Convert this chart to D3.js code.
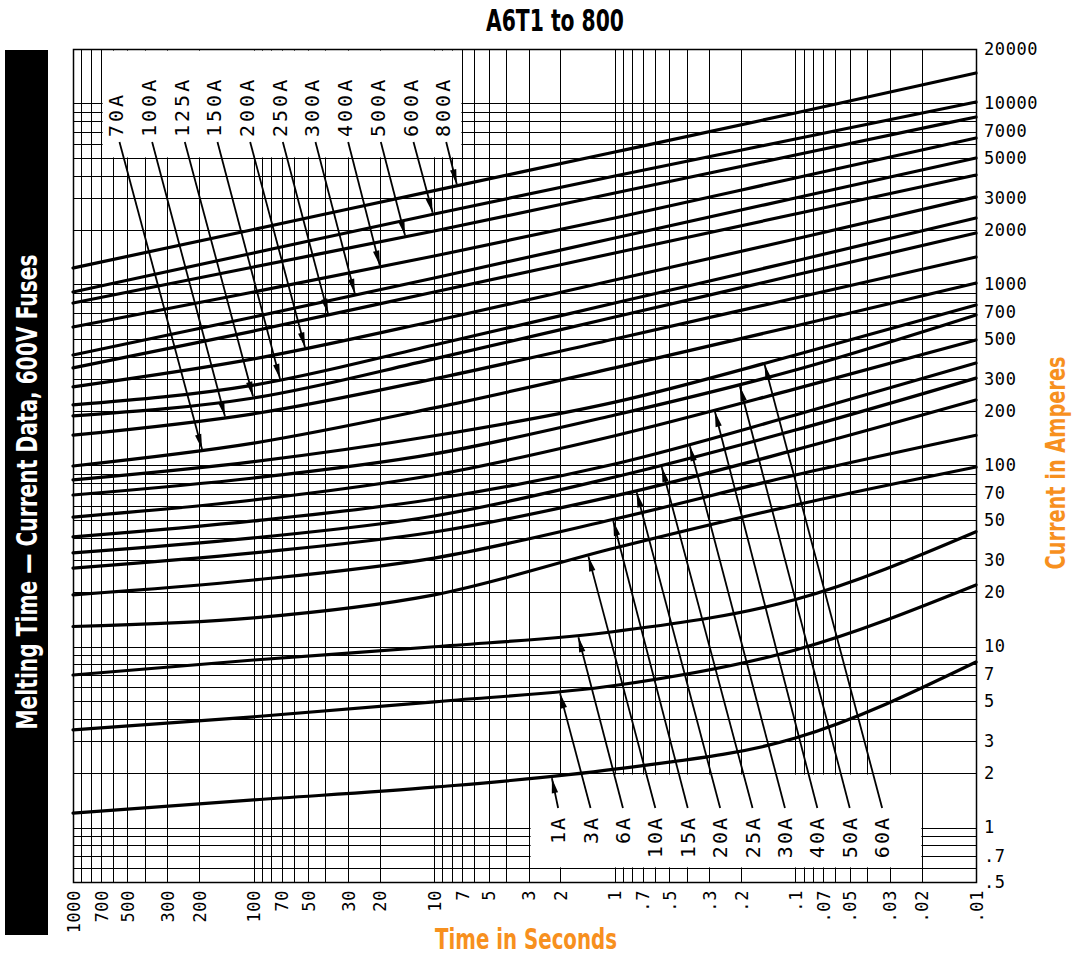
<!DOCTYPE html>
<html>
<head>
<meta charset="utf-8">
<script src="https://cdn.jsdelivr.net/npm/d3@7"></script>
<style>
  html, body { margin: 0; padding: 0; background: #fff; }
  svg { display: block; }
</style>
</head>
<body>
<svg id="chart" width="1073" height="956"></svg>
<script>
// ---------------- DATA ----------------
const fuseNames = ["1A","3A","6A","10A","15A","20A","25A","30A","40A","50A","60A","70A",
                   "100A","125A","150A","200A","250A","300A","400A","500A","600A","800A"];
const curveTimes = [1000, 100, 10, 1, 0.1, 0.01];
// melting current (A) of each fuse at each time of curveTimes
const ampsAt1000s = [1.20, 3.46, 6.96, 12.9, 19.3, 27.1, 32.9, 40.3, 51.9, 68.7, 83.2, 99.4, 147, 188, 216, 272, 346, 408, 582, 790, 909, 1234];
const ampsAt100s  = [1.42, 4.09, 8.42, 14.4, 23.3, 32.9, 39.8, 49.4, 64.5, 85.3, 105, 133, 193, 236, 278, 388, 553, 661, 909, 1250, 1493, 2014];
const ampsAt10s   = [1.67, 4.95, 9.97, 19.3, 30.8, 42.9, 52.6, 65.3, 88.6, 116, 146, 208, 301, 388, 463, 629, 909, 1086, 1437, 1975, 2452, 3303];
const ampsAt1s    = [2.10, 6.09, 12.1, 35.0, 50.6, 67.9, 86.4, 102, 146, 190, 224, 346, 500, 661, 790, 1059, 1493, 1807, 2330, 3202, 3975, 5395];
const ampsAt01s   = [3.12, 9.57, 18.2, 60.5, 88.6, 122, 157, 190, 265, 337, 408, 590, 842, 1128, 1349, 1784, 2452, 3006, 3876, 5194, 6366, 8862];
const ampsAt001s  = [8.21, 21.9, 43.1, 98.1, 147, 230, 304, 368, 494, 679, 770, 1019, 1419, 1925, 2330, 3044, 4027, 5000, 6447, 8423, 10192, 14740];

const xTickValues = [1000,700,500,300,200,100,70,50,30,20,10,7,5,3,2,1,0.7,0.5,0.3,0.2,0.1,0.07,0.05,0.03,0.02,0.01];
const yTickValues = [20000,10000,7000,5000,3000,2000,1000,700,500,300,200,100,70,50,30,20,10,7,5,3,2,1,0.7,0.5];

// annotation: labels and the time (s) at which each leader arrow touches its curve
const topLabelFuses = ["70A","100A","125A","150A","200A","250A","300A","400A","500A","600A","800A"];
const topArrowTimes = [193, 144, 100.7, 71.4, 51.9, 38.7, 27.5, 20, 14.5, 10.2, 7.5];
const bottomLabelFuses = ["1A","3A","6A","10A","15A","20A","25A","30A","40A","50A","60A"];
const bottomArrowTimes = [2.23, 2.01, 1.59, 1.40, 1.02, 0.757, 0.55, 0.384, 0.279, 0.203, 0.148];

const titleText = "A6T1 to 800";
const sideText = "Melting Time \u2014 Current Data, 600V Fuses";
const xTitle = "Time in Seconds";
const yTitle = "Current in Amperes";

// ---------------- CHART ----------------
(function () {
const svg = d3.select("#chart");
const ORANGE = "#F7901E";
const pL = 73, pR = 976, pT = 49, pB = 882;

const x = d3.scaleLog().domain([1000, 0.01]).range([pL, pR]);
const y = d3.scaleLog().domain([0.5, 20000]).range([pB, pT]);

// grid values (log paper: 1..9 x 10^k)
const gridT = [];
for (let k = -2; k <= 3; k++) for (let m = 1; m <= 9; m++) {
  const v = +(m * Math.pow(10, k)).toPrecision(3);
  if (v >= 0.01 && v <= 1000) gridT.push(v);
}
const gridI = [];
for (let k = -1; k <= 4; k++) for (let m = 1; m <= 9; m++) {
  const v = +(m * Math.pow(10, k)).toPrecision(3);
  if (v >= 0.5 && v <= 20000) gridI.push(v);
}

const grid = svg.append("g").attr("stroke", "#000").attr("stroke-width", 1.1)
  .attr("shape-rendering", "crispEdges");
grid.selectAll("line.v").data(gridT).join("line").attr("class", "v")
  .attr("x1", d => Math.round(x(d)) + 0.5).attr("x2", d => Math.round(x(d)) + 0.5)
  .attr("y1", pT).attr("y2", pB);
grid.selectAll("line.h").data(gridI).join("line").attr("class", "h")
  .attr("y1", d => Math.round(y(d)) + 0.5).attr("y2", d => Math.round(y(d)) + 0.5)
  .attr("x1", pL).attr("x2", pR);

// white label boxes (blank areas of the paper)
const boxes = [
  {t0: 700, t1: 7, i0: 5000, i1: 20000},
  {t0: 3, t1: 0.02, i0: 0.6, i1: 2}
];
svg.append("g").selectAll("rect").data(boxes).join("rect")
  .attr("x", d => Math.round(x(d.t0)) + 1.6)
  .attr("width", d => Math.round(x(d.t1)) - Math.round(x(d.t0)) - 2.2)
  .attr("y", d => Math.round(y(d.i1)) + 1.6)
  .attr("height", d => Math.round(y(d.i0)) - Math.round(y(d.i1)) - 2.2)
  .attr("fill", "#fff");

// frame
svg.append("rect").attr("x", pL + 0.5).attr("y", pT + 0.5)
  .attr("width", pR - pL).attr("height", pB - pT)
  .attr("fill", "none").attr("stroke", "#000").attr("stroke-width", 1.5);

// curves
const ampCols = [ampsAt1000s, ampsAt100s, ampsAt10s, ampsAt1s, ampsAt01s, ampsAt001s];
const curves = fuseNames.map((name, i) => ({
  name,
  pts: curveTimes.map((t, j) => ({t, a: ampCols[j][i]}))
}));
const line = d3.line().x(d => x(d.t)).y(d => y(d.a)).curve(d3.curveMonotoneX);
const curveSel = svg.append("g").selectAll("path").data(curves).join("path")
  .attr("d", d => line(d.pts))
  .attr("fill", "none").attr("stroke", "#000").attr("stroke-width", 3.2)
  .attr("stroke-linecap", "round");

const pathByName = {};
curveSel.each(function(d) { pathByName[d.name] = this; });
function yOnCurve(name, px) {
  const p = pathByName[name];
  let lo = 0, hi = p.getTotalLength();
  for (let k = 0; k < 40; k++) {
    const mid = (lo + hi) / 2;
    if (p.getPointAtLength(mid).x < px) lo = mid; else hi = mid;
  }
  return p.getPointAtLength((lo + hi) / 2).y;
}

// annotation labels + leaders
const ann = svg.append("g");
const labelFont = "'DejaVu Sans Mono', monospace";
function arrowHead(x0, y0, x1, y1) {
  const dx = x1 - x0, dy = y1 - y0, L = Math.hypot(dx, dy);
  const ux = dx / L, uy = dy / L, nx = -uy, ny = ux;
  const bx = x1 - ux * 15, by = y1 - uy * 15;
  return `M${x1},${y1}L${bx + nx * 3.2},${by + ny * 3.2}L${bx - nx * 3.2},${by - ny * 3.2}Z`;
}

const topScale = d3.scalePoint().domain(topLabelFuses)
  .range([x(700) + 15.5, x(7) - 19]);
const topBase = y(5000) - 21;
topLabelFuses.forEach((name, i) => {
  const lx = topScale(name);
  ann.append("text").attr("transform", `translate(${lx + 7},${topBase}) rotate(-90)`)
    .attr("font-family", labelFont).attr("font-size", 20).attr("letter-spacing", 3)
    .attr("text-anchor", "start").text(name);
  const tx = x(topArrowTimes[i]), ty = yOnCurve(name, tx) - 1.5;
  const sx = lx + 3, sy = y(5000) - 16;
  ann.append("line").attr("x1", sx).attr("y1", sy).attr("x2", tx).attr("y2", ty)
    .attr("stroke", "#000").attr("stroke-width", 1.8);
  ann.append("path").attr("d", arrowHead(sx, sy, tx, ty)).attr("fill", "#000");
});

const botScale = d3.scalePoint().domain(bottomLabelFuses)
  .range([x(3) + 29.5, x(0.02) - 39.5]);
const botBase = y(2) + 43;
bottomLabelFuses.forEach((name, i) => {
  const lx = botScale(name);
  ann.append("text").attr("transform", `translate(${lx + 7},${botBase}) rotate(-90)`)
    .attr("font-family", labelFont).attr("font-size", 20).attr("letter-spacing", 2)
    .attr("text-anchor", "end").text(name);
  const tx = x(bottomArrowTimes[i]), ty = yOnCurve(name, tx) + 1.5;
  const sx = lx, sy = y(2) + 35;
  ann.append("line").attr("x1", sx).attr("y1", sy).attr("x2", tx).attr("y2", ty)
    .attr("stroke", "#000").attr("stroke-width", 1.8);
  ann.append("path").attr("d", arrowHead(sx, sy, tx, ty)).attr("fill", "#000");
});

// axes
const fmt = v => String(v).replace(/^0\./, ".");
const xAxis = svg.append("g").attr("transform", `translate(0,${pB})`)
  .call(d3.axisBottom(x).tickValues(xTickValues).tickFormat(fmt).tickSize(0));
xAxis.select(".domain").remove();
xAxis.selectAll("text")
  .attr("transform", "rotate(-90)").attr("x", -8).attr("y", 0).attr("dy", "0.36em")
  .style("text-anchor", "end")
  .attr("font-family", labelFont).attr("font-size", 17).attr("letter-spacing", 0.6)
  .attr("fill", "#000");

const yAxis = svg.append("g").attr("transform", `translate(${pR},0)`)
  .call(d3.axisRight(y).tickValues(yTickValues).tickFormat(fmt).tickSize(0).tickPadding(8));
yAxis.select(".domain").remove();
yAxis.selectAll("text")
  .attr("font-family", labelFont).attr("font-size", 17).attr("letter-spacing", 0.6)
  .attr("fill", "#000");

// titles
const condensed = "'Liberation Sans Narrow','DejaVu Sans Condensed','Arial Narrow',sans-serif";
svg.append("text").attr("x", 555).attr("y", 31).attr("text-anchor", "middle")
  .attr("font-family", condensed).attr("font-weight", "bold").attr("font-size", 31)
  .attr("textLength", 138).attr("lengthAdjust", "spacingAndGlyphs").text(titleText);

svg.append("rect").attr("x", 5).attr("y", 50).attr("width", 43).attr("height", 885).attr("fill", "#000");
svg.append("text").attr("transform", "translate(37,492) rotate(-90)").attr("text-anchor", "middle")
  .attr("font-family", condensed).attr("font-weight", "bold").attr("font-size", 28).attr("fill", "#fff")
  .attr("textLength", 475).attr("lengthAdjust", "spacingAndGlyphs").text(sideText);

svg.append("text").attr("x", 526).attr("y", 949).attr("text-anchor", "middle")
  .attr("font-family", condensed).attr("font-weight", "bold").attr("font-size", 29).attr("fill", ORANGE)
  .attr("textLength", 182).attr("lengthAdjust", "spacingAndGlyphs").text(xTitle);

svg.append("text").attr("transform", "translate(1065,463) rotate(-90)").attr("text-anchor", "middle")
  .attr("font-family", condensed).attr("font-weight", "bold").attr("font-size", 27).attr("fill", ORANGE)
  .attr("textLength", 213).attr("lengthAdjust", "spacingAndGlyphs").text(yTitle);
})();
</script>
</body>
</html>
